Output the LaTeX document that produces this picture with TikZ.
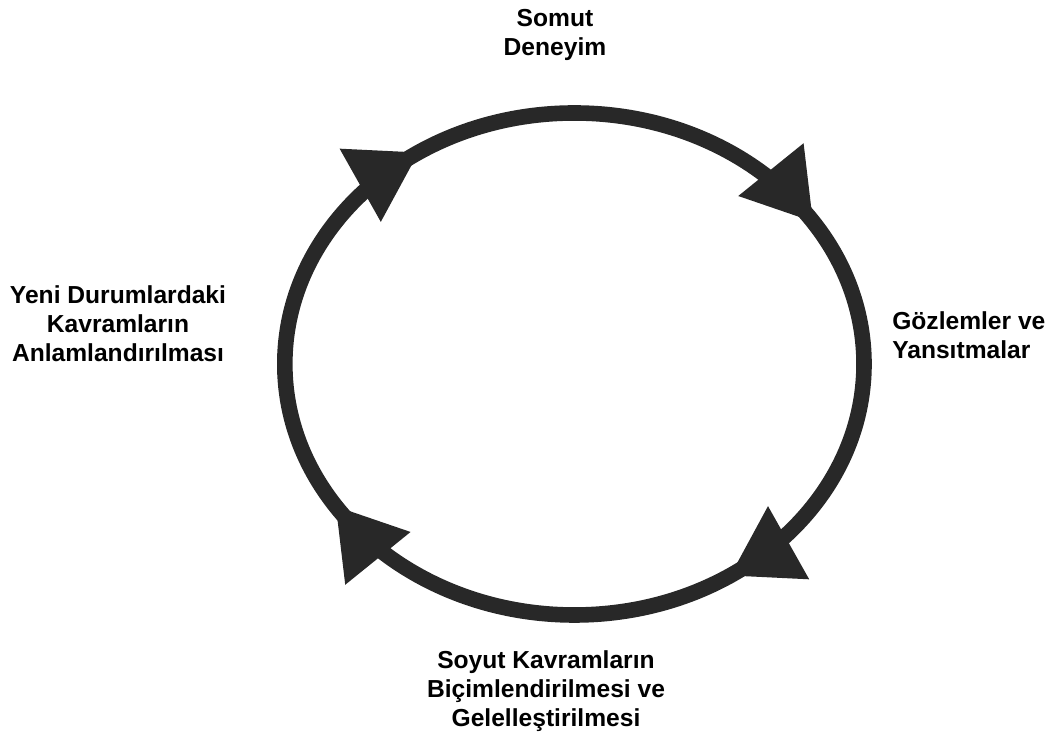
\documentclass[tikz,border=0pt]{standalone}
\usepackage{fontspec}
\setmainfont{Liberation Sans}
\definecolor{ringgray}{HTML}{282828}

\begin{document}
\begin{tikzpicture}[
		lbl/.style={font=\fontsize{17.5}{20.6}\selectfont\bfseries, inner sep=0pt},
		ring/.style={draw=ringgray, line width=0.39cm},
		head/.style={fill=ringgray}
	]
		\def\rx{7.24}
		\def\ry{6.275}
		\useasboundingbox (0,0) rectangle (26.475,18.4);
		\coordinate (c) at (14.36, 9.3);
		\draw[ring] (c) ellipse ({\rx cm} and {\ry cm});
		% arrowheads, clockwise
		\foreach \t in {123, 35, 303, 215} {
			\pgfmathsetmacro{\ang}{atan2(-\ry*cos(\t), \rx*sin(\t))}
			\fill[head, shift={(c)}, shift={(\t:\rx cm and \ry cm)}, rotate=\ang]
				(0.05,0) -- (-1.62,1.05) -- (-1.62,-1.05) -- cycle;
		}
		\node[lbl, align=center] (somut) at (13.875, 17.525) {Somut\\Deneyim};
		\node[lbl, align=left, anchor=west] (gozlem) at (22.3, 10.025) {Gözlemler ve\\Yansıtmalar};
		\node[lbl, align=center] (yeni) at (2.95, 10.3) {Yeni Durumlardaki\\Kavramların\\Anlamlandırılması};
		\node[lbl, align=center] (soyut) at (13.65, 1.12) {Soyut Kavramların\\Biçimlendirilmesi ve\\Gelelleştirilmesi};
	\end{tikzpicture}
\end{document}
